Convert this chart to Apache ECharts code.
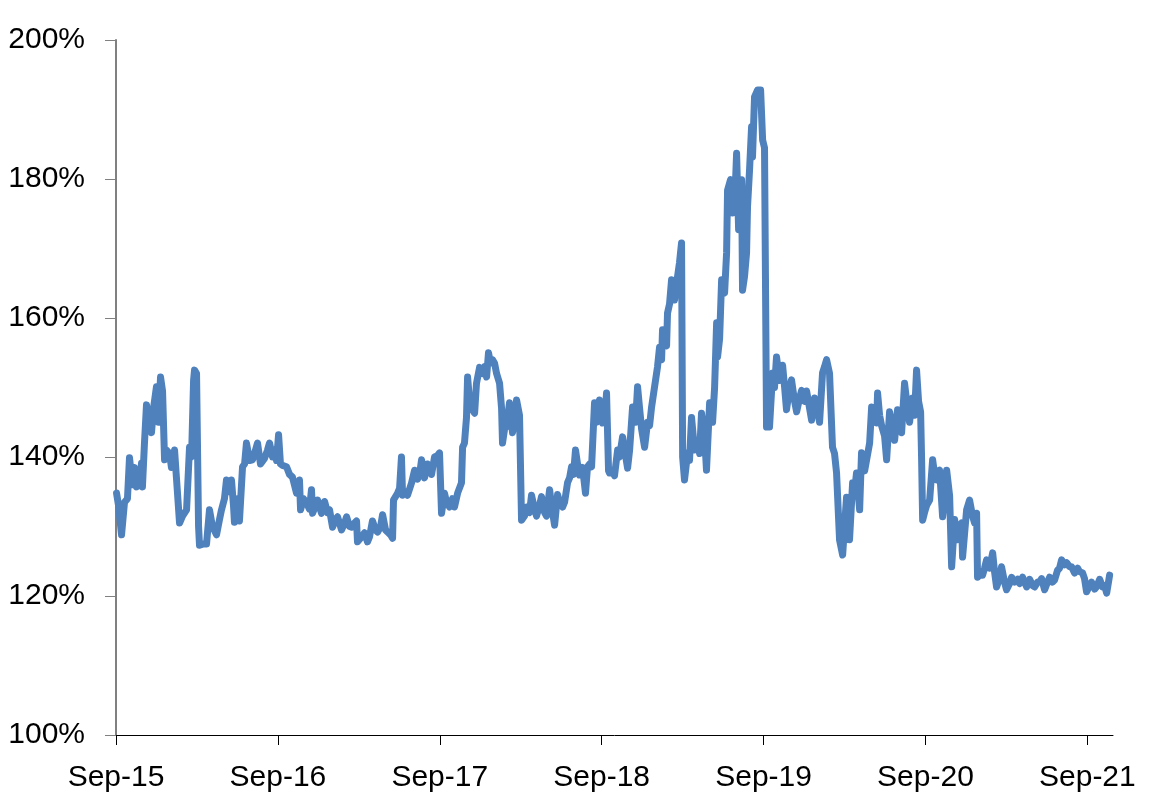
<!DOCTYPE html>
<html>
<head>
<meta charset="utf-8">
<script src="https://cdn.jsdelivr.net/npm/echarts@6/dist/echarts.min.js"></script>
<style>
  html, body { margin: 0; padding: 0; background: #fff; }
  #chart { width: 1150px; height: 808px; }
</style>
</head>
<body>
<div id="chart"></div>
<script>
// x = months since Sep-15, y = ratio in %
const months = [
  0.04, 0.19, 0.41, 0.63, 0.85, 1.00, 1.22, 1.37, 1.52, 1.74, 1.89, 1.96, 2.11, 2.26, 2.48, 2.63, 2.78, 3.00, 3.15, 3.30,
  3.45, 3.60, 3.74, 3.97, 4.11, 4.34, 4.48, 4.71, 4.93, 5.23, 5.45, 5.60, 5.75, 5.82, 5.97, 6.12, 6.19, 6.49, 6.71, 6.93,
  7.15, 7.45, 7.67, 7.82, 8.04, 8.19, 8.41, 8.56, 8.71, 8.78, 9.01, 9.15, 9.38, 9.53, 9.67, 9.90, 10.12, 10.34, 10.49, 10.71,
  11.01, 11.23, 11.38, 11.60, 11.75, 11.90, 12.05, 12.19, 12.34, 12.64, 12.86, 13.08, 13.38, 13.60, 13.68, 13.90, 14.12, 14.34, 14.49, 14.57,
  14.79, 14.94, 15.23, 15.46, 15.68, 15.83, 16.05, 16.27, 16.42, 16.72, 16.94, 17.09, 17.31, 17.46, 17.68, 17.83, 17.90, 18.20, 18.42, 18.64,
  18.79, 19.01, 19.24, 19.39, 19.61, 19.76, 19.98, 20.13, 20.35, 20.50, 20.57, 20.87, 21.02, 21.16, 21.24, 21.46, 21.61, 21.91, 22.13, 22.35,
  22.50, 22.65, 22.87, 23.09, 23.39, 23.61, 23.83, 23.98, 24.13, 24.35, 24.50, 24.72, 24.94, 25.09, 25.32, 25.61, 25.69, 25.83, 25.98, 26.06,
  26.21, 26.35, 26.58, 26.72, 26.95, 27.17, 27.32, 27.47, 27.61, 27.76, 27.91, 28.06, 28.21, 28.43, 28.58, 28.65, 28.80, 28.95, 29.17, 29.39,
  29.54, 29.69, 29.91, 30.06, 30.28, 30.43, 30.65, 30.80, 31.02, 31.17, 31.39, 31.54, 31.77, 31.91, 32.14, 32.28, 32.51, 32.73, 32.88, 33.10,
  33.25, 33.47, 33.62, 33.77, 33.91, 34.06, 34.21, 34.36, 34.58, 34.80, 34.95, 35.10, 35.25, 35.47, 35.62, 35.84, 36.06, 36.21, 36.36, 36.51,
  36.58, 36.81, 36.95, 37.18, 37.32, 37.55, 37.70, 37.92, 38.07, 38.29, 38.51, 38.66, 38.81, 38.96, 39.18, 39.40, 39.55, 39.70, 39.92, 40.14,
  40.29, 40.44, 40.51, 40.66, 40.81, 40.88, 41.03, 41.18, 41.40, 41.62, 41.77, 41.92, 42.00, 42.14, 42.37, 42.51, 42.66, 42.88, 43.11, 43.26,
  43.40, 43.63, 43.77, 44.00, 44.22, 44.37, 44.52, 44.59, 44.74, 44.89, 45.11, 45.26, 45.33, 45.55, 45.70, 45.85, 46.00, 46.15, 46.22, 46.37,
  46.44, 46.59, 46.74, 46.81, 46.96, 47.11, 47.18, 47.33, 47.55, 47.78, 47.93, 48.07, 48.22, 48.44, 48.67, 48.81, 48.96, 49.19, 49.41, 49.56,
  49.70, 49.93, 50.07, 50.30, 50.45, 50.67, 50.82, 51.04, 51.19, 51.41, 51.56, 51.78, 52.00, 52.15, 52.37, 52.52, 52.67, 52.89, 53.11, 53.26,
  53.41, 53.63, 53.86, 54.00, 54.15, 54.37, 54.60, 54.74, 54.89, 55.12, 55.26, 55.49, 55.63, 55.86, 56.01, 56.23, 56.38, 56.45, 56.60, 56.75,
  56.97, 57.12, 57.34, 57.56, 57.71, 57.93, 58.08, 58.23, 58.45, 58.67, 58.82, 59.04, 59.19, 59.34, 59.49, 59.64, 59.71, 59.79, 59.93, 60.08,
  60.31, 60.53, 60.68, 60.82, 61.05, 61.27, 61.42, 61.57, 61.79, 61.94, 62.16, 62.38, 62.53, 62.68, 62.75, 62.90, 63.05, 63.27, 63.49, 63.64,
  63.79, 63.86, 64.01, 64.23, 64.38, 64.53, 64.75, 64.98, 65.12, 65.27, 65.49, 65.64, 65.86, 66.01, 66.24, 66.38, 66.61, 66.83, 66.98, 67.20,
  67.35, 67.50, 67.72, 67.94, 68.09, 68.31, 68.46, 68.61, 68.83, 69.05, 69.20, 69.42, 69.57, 69.79, 69.94, 70.09, 70.31, 70.46, 70.68, 70.83,
  71.05, 71.28, 71.42, 71.65, 71.79, 71.94, 72.17, 72.31, 72.54, 72.68, 72.91, 73.13, 73.28, 73.43, 73.65
];
const ratio = [
  134.8, 133.0, 128.8, 133.5, 134.0, 139.9, 136.0, 138.5, 135.7, 136.0, 139.1, 135.7, 142.0, 147.5, 145.0, 143.5, 147.0, 150.1, 145.0, 151.5,
  149.5, 139.6, 141.0, 140.5, 138.5, 141.0, 137.0, 130.5, 131.5, 132.4, 141.4, 140.0, 151.0, 152.5, 152.0, 130.0, 127.3, 127.5, 127.5, 132.4,
  130.0, 128.8, 131.0, 132.4, 134.0, 136.7, 135.0, 136.7, 133.0, 130.6, 134.0, 130.8, 138.6, 139.0, 142.0, 139.5, 139.6, 141.0, 142.0, 139.0,
  139.8, 141.0, 142.0, 140.0, 141.0, 139.5, 143.2, 139.0, 138.8, 138.6, 137.5, 137.1, 134.8, 136.7, 132.4, 134.0, 133.4, 132.5, 135.3, 131.9,
  133.0, 133.8, 131.9, 133.6, 132.0, 132.4, 129.9, 131.0, 131.4, 129.5, 130.5, 131.4, 130.0, 129.9, 130.5, 130.8, 127.8, 128.5, 129.1, 127.8,
  128.5, 130.8, 129.5, 129.2, 130.0, 131.7, 129.5, 129.2, 128.8, 128.3, 133.8, 134.8, 135.5, 140.0, 134.5, 135.0, 134.5, 136.3, 138.1, 136.8,
  137.5, 139.6, 137.0, 139.0, 137.5, 140.0, 140.2, 140.6, 131.9, 134.8, 133.5, 132.8, 134.0, 132.8, 134.8, 136.3, 141.4, 142.0, 145.7, 151.5,
  148.0, 147.0, 146.3, 150.6, 152.9, 152.0, 153.0, 151.5, 155.0, 153.5, 154.0, 153.5, 152.0, 150.6, 147.0, 142.0, 144.0, 144.4, 147.8, 143.5,
  145.0, 148.2, 146.0, 130.9, 131.5, 132.8, 132.0, 134.5, 132.5, 131.5, 133.0, 134.3, 132.0, 131.5, 135.3, 133.0, 130.2, 134.6, 133.5, 132.8,
  133.5, 136.3, 137.0, 138.6, 137.5, 141.0, 139.0, 137.4, 138.5, 134.8, 138.6, 139.0, 138.6, 147.8, 145.0, 148.2, 144.9, 145.0, 149.2, 138.0,
  137.7, 138.0, 137.3, 141.0, 140.0, 142.9, 141.0, 138.4, 141.0, 147.2, 145.0, 150.1, 147.0, 144.0, 141.4, 145.0, 144.5, 147.2, 150.1, 153.0,
  155.8, 154.0, 158.3, 157.0, 156.0, 160.7, 162.0, 165.5, 162.6, 165.9, 168.0, 170.8, 140.0, 136.7, 140.6, 139.5, 145.7, 141.0, 142.0, 140.5,
  146.3, 143.0, 138.1, 147.8, 145.0, 150.0, 159.3, 154.4, 157.0, 165.5, 163.6, 169.4, 178.4, 179.9, 175.1, 176.0, 183.7, 172.7, 176.0, 179.9,
  164.0, 166.0, 169.4, 176.0, 181.3, 187.5, 183.2, 191.8, 192.8, 192.8, 185.6, 184.5, 144.3, 144.3, 152.1, 150.0, 154.4, 151.0, 153.2, 150.0,
  146.8, 150.0, 151.1, 148.0, 146.5, 148.5, 149.6, 148.0, 149.5, 147.0, 145.3, 148.5, 147.0, 145.0, 152.1, 153.0, 154.0, 152.0, 141.4, 140.5,
  137.7, 128.1, 125.9, 130.0, 134.2, 128.1, 136.3, 135.0, 137.7, 132.4, 140.6, 138.0, 137.9, 142.0, 147.2, 145.0, 144.9, 149.2, 146.0, 144.5,
  143.0, 139.6, 146.5, 144.0, 142.4, 146.8, 144.0, 143.5, 150.6, 147.0, 145.0, 148.5, 146.0, 152.5, 148.0, 146.5, 140.0, 130.9, 132.0, 133.0,
  133.8, 139.6, 137.5, 136.7, 138.1, 131.4, 134.0, 138.1, 134.4, 124.2, 131.0, 128.1, 130.0, 130.5, 125.6, 129.0, 132.4, 133.8, 131.5, 130.5,
  131.9, 122.7, 123.0, 123.0, 124.0, 125.2, 124.0, 126.2, 123.5, 121.3, 122.5, 124.2, 122.0, 120.9, 121.8, 122.7, 122.0, 122.4, 121.8, 122.7,
  122.0, 121.3, 122.4, 121.5, 121.3, 122.0, 122.0, 122.5, 120.9, 122.0, 122.7, 122.0, 122.3, 123.7, 124.0, 125.2, 124.5, 124.8, 124.2, 124.2,
  123.3, 124.0, 123.5, 123.3, 122.5, 120.6, 121.5, 122.0, 121.0, 121.3, 122.4, 121.3, 121.5, 120.4, 123.0
];
const tickMonths = [0, 12, 24, 36, 48, 60, 72];
const tickLabels = ['Sep-15', 'Sep-16', 'Sep-17', 'Sep-18', 'Sep-19', 'Sep-20', 'Sep-21'];

const chart = echarts.init(document.getElementById('chart'));
const font = { fontFamily: 'Liberation Sans, Arial, sans-serif', fontSize: 30, color: '#000' };

chart.setOption({
  animation: false,
  grid: { left: 116, right: 37, top: 40, bottom: 73, containLabel: false },
  xAxis: {
    type: 'value',
    min: 0,
    max: 73.9,
    axisLine: { lineStyle: { color: '#000', width: 1 } },
    axisTick: { show: true, length: 10, lineStyle: { color: '#000' }, customValues: tickMonths },
    axisLabel: Object.assign({}, font, {
      margin: 28,
      customValues: tickMonths,
      formatter: (v) => tickLabels[tickMonths.indexOf(Math.round(v))] || ''
    }),
    splitLine: { show: false }
  },
  yAxis: {
    type: 'value',
    min: 100,
    max: 200,
    interval: 20,
    axisLine: { show: true, lineStyle: { color: '#808080', width: 2 } },
    axisTick: { show: true, length: 11, lineStyle: { color: '#808080' } },
    axisLabel: Object.assign({}, font, { margin: 31, formatter: '{value}%' }),
    splitLine: { show: false }
  },
  series: [{
    type: 'line',
    data: months.map((m, i) => [m, ratio[i]]),
    showSymbol: false,
    lineStyle: { color: '#4F81BD', width: 7, cap: 'round', join: 'round' }
  }]
});
</script>
</body>
</html>
